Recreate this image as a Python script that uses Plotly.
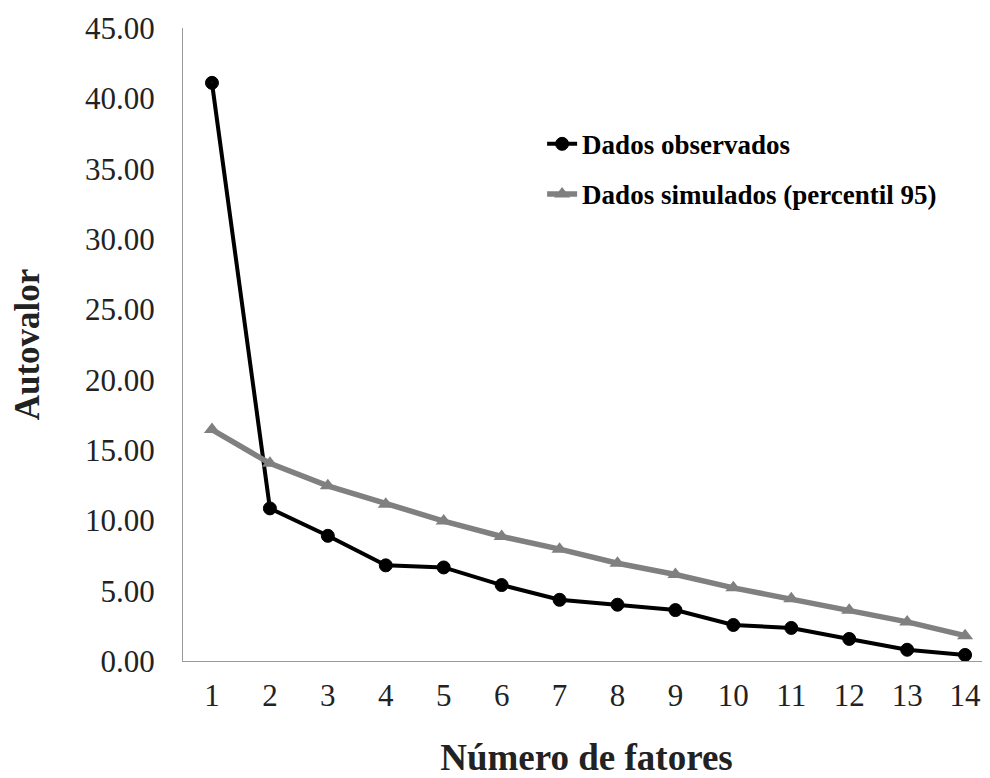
import plotly.graph_objects as go

fatores = list(range(1, 15))
observados = [41.1, 10.85, 8.9, 6.8, 6.65, 5.4, 4.35, 4.0, 3.62, 2.56, 2.35, 1.57, 0.8, 0.43]
simulados = [16.45, 14.05, 12.45, 11.15, 9.95, 8.85, 7.95, 6.95, 6.15, 5.2, 4.42, 3.6, 2.78, 1.8]
y_ticks = [0, 5, 10, 15, 20, 25, 30, 35, 40, 45]

FONT = "Liberation Serif, Times New Roman, serif"

fig = go.Figure()
fig.add_trace(go.Scatter(
    x=fatores, y=observados, mode="lines+markers", name="Dados observados",
    legendgroup="a",
    line=dict(color="black", width=4),
    marker=dict(symbol="circle-dot", size=13, color="black", line=dict(color="black", width=1)),
))
fig.add_trace(go.Scatter(
    x=fatores, y=simulados, mode="lines+markers", name="Dados simulados (percentil 95)",
    legendgroup="b",
    line=dict(color="#808080", width=5.5),
    marker=dict(symbol="triangle-up", size=14, color="#808080"),
))

fig.update_layout(
    width=982, height=770,
    margin=dict(l=175, r=0, t=20, b=117),
    paper_bgcolor="white", plot_bgcolor="white",
    font=dict(family=FONT, color="black"),
    showlegend=True,
    legend=dict(
        x=0.445, y=0.855, xanchor="left", yanchor="top",
        font=dict(family=FONT, size=27, color="black", weight="bold"),
        bgcolor="rgba(0,0,0,0)", tracegroupgap=12, traceorder="grouped",
    ),
    xaxis=dict(
        range=[0.5, 14.43], tickmode="array", tickvals=fatores,
        ticktext=[str(v) for v in fatores],
        showgrid=False, zeroline=False, showline=True, linecolor="#9a9a9a", linewidth=1,
        ticks="", ticklabelstandoff=7, automargin=False,
        tickfont=dict(family=FONT, size=31, color="#222"),
        title=dict(text="<b>Número de fatores</b>", font=dict(family=FONT, size=37, color="#222"), standoff=40),
    ),
    yaxis=dict(
        range=[0, 45], tickmode="array", tickvals=y_ticks,
        ticktext=[f"{v:.2f}" for v in y_ticks],
        showgrid=False, zeroline=False, showline=True, linecolor="#9a9a9a", linewidth=1,
        ticks="", ticklabelstandoff=21, automargin=False,
        tickfont=dict(family=FONT, size=31, color="#222"),
        title=dict(text="<b>Autovalor</b>", font=dict(family=FONT, size=35, color="#222"), standoff=43),
    ),
)

fig.write_html("out.html")
